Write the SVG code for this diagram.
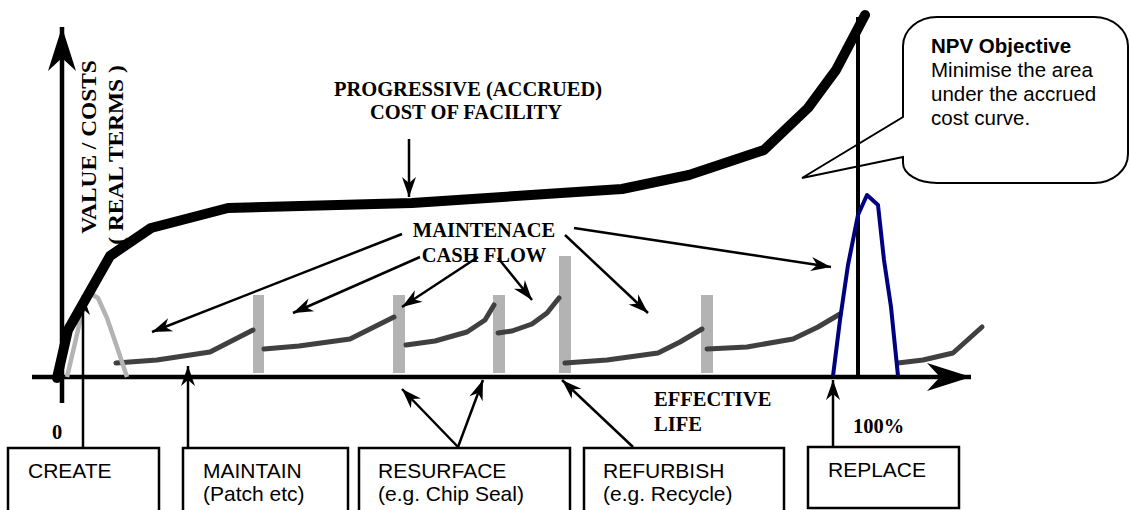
<svg xmlns="http://www.w3.org/2000/svg" width="1130" height="510" viewBox="0 0 1130 510">
<style>
.tb{font-family:"Liberation Serif","Times New Roman",serif;font-weight:bold;font-size:20.5px;fill:#000}
.as{font-family:"Liberation Sans",Arial,sans-serif;font-size:21px;fill:#000}
.npv{font-family:"Liberation Sans",Arial,sans-serif;font-size:20.5px;fill:#000}
.box{fill:#fff;stroke:#000;stroke-width:2.5}
.thin{fill:none;stroke:#000;stroke-width:2.5;marker-end:url(#ah)}
.seg{fill:none;stroke:#404040;stroke-width:5;stroke-linecap:round;stroke-linejoin:round}
.bar{fill:#b3b3b3}
</style>
<defs>
<marker id="ah" markerUnits="userSpaceOnUse" viewBox="-22 -10 24 20" markerWidth="24" markerHeight="20" refX="0" refY="0" orient="auto" overflow="visible">
<path d="M0,0 L-20,-7 L-14,0 L-20,7 Z" fill="#000"/>
</marker>
<marker id="big" markerUnits="userSpaceOnUse" viewBox="-46 -16 48 32" markerWidth="48" markerHeight="32" refX="0" refY="0" orient="auto" overflow="visible">
<path d="M0,0 L-44,-14 L-31,0 L-44,14 Z" fill="#000"/>
</marker>
</defs>

<g id="npv-callout">
<path d="M903,157 L802,178 L903,117 L903,46 A34,29 0 0 1 937,17 L1094,17 A34,29 0 0 1 1128,46 L1128,154 A34,29 0 0 1 1094,183 L937,183 A34,20 0 0 1 903,163 Z" fill="#fff" stroke="#000" stroke-width="2"/>
<text class="npv" x="931" y="53" font-weight="bold">NPV Objective</text>
<text class="npv" x="931" y="77">Minimise the area</text>
<text class="npv" x="931" y="101">under the accrued</text>
<text class="npv" x="931" y="125">cost curve.</text>
</g>

<g id="axes">
<line x1="62" y1="403" x2="62" y2="27" stroke="#000" stroke-width="4.5" marker-end="url(#big)"/>
<line x1="32" y1="377" x2="971" y2="377" stroke="#000" stroke-width="4.5" marker-end="url(#big)"/>
<line x1="858" y1="17" x2="858" y2="377" stroke="#000" stroke-width="4"/>
<text class="tb" transform="translate(96,147) scale(1,1.14) rotate(-90)" text-anchor="middle">VALUE / COSTS</text>
<text class="tb" transform="translate(123,155) scale(1,1.14) rotate(-90)" text-anchor="middle">( REAL TERMS )</text>
<text class="tb" x="57" y="439" text-anchor="middle">0</text>
<text class="tb" x="654" y="406">EFFECTIVE</text>
<text class="tb" x="654" y="431">LIFE</text>
<text class="tb" x="853" y="433">100%</text>
</g>

<g id="maintenance-bars">
<rect class="bar" x="253" y="295" width="11" height="78"/>
<rect class="bar" x="393" y="295" width="12" height="78"/>
<rect class="bar" x="493" y="295" width="12" height="78"/>
<rect class="bar" x="559" y="256" width="12" height="117"/>
<rect class="bar" x="701" y="295" width="12" height="78"/>
</g>

<g id="maintenance-curves">
<polyline class="seg" points="116,363 157,360 210,352 253,330"/>
<polyline class="seg" points="264,349 299,346 350,339 394,317"/>
<polyline class="seg" points="406,345 435,341 467,332 485,320 494,305"/>
<polyline class="seg" points="498,333 512,331 532,324 547,313 559,298"/>
<polyline class="seg" points="565,363 607,360 658,353 680,342 702,329"/>
<polyline class="seg" points="707,349 747,347 793,339 818,327 840,314"/>
<polyline class="seg" points="898,363 923,360 953,353 982,327"/>
</g>

<g id="create-peak">
<polyline points="67,377 75,343 83,308 90,293 98,298 107,318 117,347 127,377" fill="none" stroke="#b3b3b3" stroke-width="4.5" stroke-linejoin="round"/>
</g>

<g id="replace-peak">
<polyline points="833,376 840,320 848,265 858,215 867,195 878,205 884,260 891,307 898,376" fill="none" stroke="#000080" stroke-width="4" stroke-linejoin="round"/>
</g>

<g id="accrued-cost-curve">
<polyline points="57,378 68,330 110,256 151,228 228,208 412,203 622,189 689,175 764,150 808,108 836,70 865,15" fill="none" stroke="#000" stroke-width="10" stroke-linejoin="round" stroke-linecap="round"/>
</g>

<g id="labels">
<text class="tb" x="468" y="96" text-anchor="middle">PROGRESSIVE (ACCRUED)</text>
<text class="tb" x="466" y="119" text-anchor="middle">COST OF FACILITY</text>
<text class="tb" x="484" y="237" text-anchor="middle">MAINTENACE</text>
<text class="tb" x="484" y="262" text-anchor="middle">CASH FLOW</text>
</g>

<g id="connectors">
<line class="thin" x1="409" y1="139" x2="409" y2="197"/>
<line class="thin" x1="402" y1="234" x2="152" y2="332"/>
<line class="thin" x1="420" y1="257" x2="293" y2="313"/>
<line class="thin" x1="478" y1="257" x2="402" y2="307"/>
<line class="thin" x1="498" y1="258" x2="532" y2="300"/>
<line class="thin" x1="565" y1="235" x2="648" y2="313"/>
<line class="thin" x1="574" y1="228" x2="831" y2="267"/>
<line class="thin" x1="83" y1="448" x2="83" y2="295"/>
<line class="thin" x1="188" y1="448" x2="188" y2="366"/>
<line class="thin" x1="458" y1="447" x2="402" y2="389"/>
<line class="thin" x1="458" y1="447" x2="483" y2="380"/>
<line class="thin" x1="633" y1="447" x2="562" y2="380"/>
<line class="thin" x1="833" y1="447" x2="833" y2="380"/>
</g>

<g id="create">
<rect class="box" x="8" y="448" width="151" height="70"/>
<text class="as" x="28" y="478">CREATE</text>
</g>
<g id="maintain">
<rect class="box" x="183" y="448" width="165" height="70"/>
<text class="as" x="203" y="478">MAINTAIN</text>
<text class="as" x="203" y="501">(Patch etc)</text>
</g>
<g id="resurface">
<rect class="box" x="359" y="448" width="211" height="70"/>
<text class="as" x="378" y="478">RESURFACE</text>
<text class="as" x="378" y="501">(e.g. Chip Seal)</text>
</g>
<g id="refurbish">
<rect class="box" x="584" y="448" width="200" height="70"/>
<text class="as" x="603" y="478">REFURBISH</text>
<text class="as" x="603" y="501">(e.g. Recycle)</text>
</g>
<g id="replace">
<rect class="box" x="808" y="447" width="151" height="61"/>
<text class="as" x="828" y="477">REPLACE</text>
</g>
</svg>
